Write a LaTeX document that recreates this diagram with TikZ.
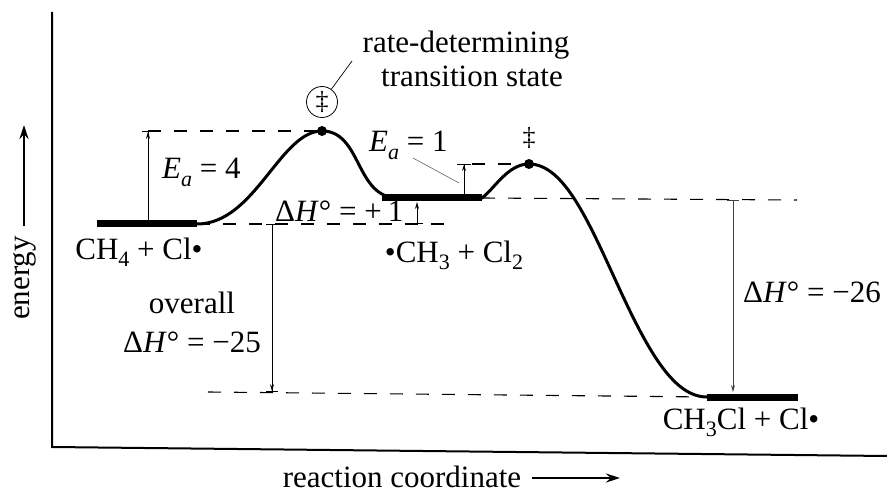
\documentclass[tikz,border=0pt]{standalone}
\usepackage{fontspec}
\setmainfont{Liberation Serif}
\usetikzlibrary{arrows.meta}
\newcommand\dnsub[1]{\raisebox{-0.55ex}{\fontsize{22pt}{22pt}\selectfont #1}}
\tikzset{
  lbl/.style={inner sep=0pt, font=\fontsize{31pt}{34pt}\selectfont},
  lvl/.style={line width=7pt},
  pes/.style={line width=3pt},
  guide/.style={dash pattern=on 13pt off 13pt, line width=1.1pt},
  meas/.style={line width=0.8pt},
  axis/.style={line width=2pt},
  dagg/.style={inner sep=0pt, font=\fontsize{26pt}{26pt}\selectfont},
}
\begin{document}
\begin{tikzpicture}[x=1pt,y=-1pt]
\useasboundingbox (0,0) rectangle (887,492);
% key points
\coordinate (R1) at (97,224);  \coordinate (R2) at (197,224);
\coordinate (I1) at (382,198); \coordinate (I2) at (482,198);
\coordinate (P1) at (707,397); \coordinate (P2) at (798,397);
\coordinate (T1) at (322,131); \coordinate (T2) at (529,164);
% axes
\coordinate (O) at (52,447); \coordinate (Ytop) at (52,12); \coordinate (Xend) at (887,456);
\draw[axis] (Ytop) -- (O) -- (Xend);
% guide lines
\coordinate (g1) at (148,131);
\coordinate (g2) at (452,224);
\coordinate (g3) at (797,200);
\coordinate (g4) at (208,392);
\coordinate (g5) at (472,164);
\draw[guide] (g1) -- (T1);
\draw[guide] (R2) -- (g2);
\draw[guide] (I2) -- (g3);
\draw[guide] (g4) -- (P1);
\draw[guide] (g5) -- (T2);
% energy curve
\draw[pes] (R2) .. controls (255,224) and (280,131) .. (T1)
  .. controls (362,131) and (355,198) .. (398,198) -- (I2)
  .. controls (495,188) and (508,164) .. (T2)
  .. controls (565,164) and (590,225) .. (620,290)
  .. controls (650,355) and (675,397) .. (P1);
% levels
\draw[lvl] (R1) -- (R2);
\draw[lvl] (I1) -- (I2);
\draw[lvl] (P1) -- (P2);
\fill (T1) circle[radius=5pt];
\fill (T2) circle[radius=5pt];
% measurement arrows
\coordinate (a1b) at (148,224); \coordinate (a1t) at (148,131);
\draw[meas, -{Stealth[length=7pt,width=4pt]Bar[width=12pt]}] (a1b) -- (a1t);
\coordinate (a2b) at (417,224); \coordinate (a2t) at (417,202);
\draw[meas, {Bar[width=12pt]}-{Stealth[length=7pt,width=4pt]}] (a2b) -- (a2t);
\coordinate (a3b) at (464,195); \coordinate (a3t) at (464,164);
\draw[meas, -{Stealth[length=6pt,width=4pt]Bar[width=14pt]}] (a3b) -- (a3t);
\coordinate (a4t) at (272,224); \coordinate (a4b) at (272,392);
\draw[meas, {Bar[width=12pt]}-{Stealth[length=7pt,width=4pt]Bar[width=12pt]}] (a4t) -- (a4b);
\coordinate (a5t) at (733,200); \coordinate (a5b) at (733,392);
\draw[meas, black!75, {Bar[width=12pt]}-{Stealth[length=7pt,width=4pt]}] (a5t) -- (a5b);
% leader for Ea = 1
\coordinate (l1a) at (413,158); \coordinate (l1b) at (459,183);
\draw[line width=0.5pt, black!70] (l1a) -- (l1b);
% transition state markers
\node[draw, circle, line width=0.8pt, minimum size=31pt, dagg] (dd1) at (322,102) {‡};
\coordinate (ldr) at (352,61);
\draw[line width=0.7pt] (dd1) -- (ldr);
\node[dagg, anchor=base] (dd2) at (529,146) {‡};
% labels
\node[lbl, anchor=base] (rd1) at (466,53) {rate-determining};
\node[lbl, anchor=base] (rd2) at (472,87) {transition state};
\node[lbl, anchor=base west] (ea4) at (162,179) {\textit{E}\dnsub{\textit{a}} = 4};
\node[lbl, anchor=base west] (ea1) at (369,152) {\textit{E}\dnsub{\textit{a}} = 1};
\node[lbl, anchor=base west] (dh1) at (275,222) {Δ\textit{H}° = +\hspace{0.2em}1};
\node[lbl, anchor=base] (reac) at (139,259) {CH\dnsub{4} + Cl•};
\node[lbl, anchor=base] (inter) at (454,262) {•CH\dnsub{3} + Cl\dnsub{2}};
\node[lbl, anchor=base] (prod) at (741,429) {CH\dnsub{3}Cl + Cl•};
\node[lbl, anchor=base] (ov1) at (192,313) {overall};
\node[lbl, anchor=base] (ov2) at (192,352) {Δ\textit{H}° = −25};
\node[lbl, anchor=base west] (dh26) at (743,302) {Δ\textit{H}° = −26};
\node[lbl, anchor=base, rotate=90] (en) at (30,278) {energy};
\coordinate (ea) at (24,226); \coordinate (eb) at (24,125);
\draw[line width=1.5pt, -{Stealth[length=14pt,width=9pt]}] (ea) -- (eb);
\node[lbl, anchor=base] (rc) at (402,487) {reaction coordinate};
\coordinate (ra) at (532,478); \coordinate (rb) at (620,478);
\draw[line width=1.5pt, -{Stealth[length=14pt,width=9pt]}] (ra) -- (rb);
\end{tikzpicture}
\end{document}
